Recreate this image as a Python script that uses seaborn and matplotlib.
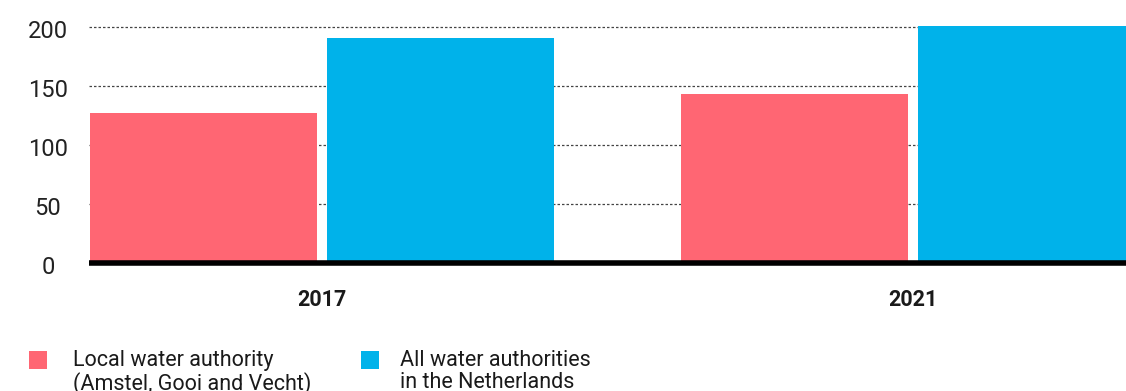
import matplotlib
matplotlib.use("Agg")
import matplotlib.pyplot as plt
from matplotlib.patches import Rectangle
from matplotlib.transforms import ScaledTranslation
import seaborn as sns
import pandas as pd

# Data
years = ["2017", "2021"]
series_names = ["Local water authority\n(Amstel, Gooi and Vecht)",
                "All water authorities\nin the Netherlands"]
local_values = [127, 143]
national_values = [191, 201]
y_ticks = [0, 50, 100, 150, 200]

colors = ["#FF6673", "#00B2EA"]
text_color = "#1a1a1a"

df = pd.DataFrame({
    "year": years * 2,
    "authority": [series_names[0]] * len(years) + [series_names[1]] * len(years),
    "value": local_values + national_values,
})

sns.set_theme(style="white")
plt.rcParams["font.family"] = ["Roboto", "DejaVu Sans"]

W, H = 1126, 391
fig = plt.figure(figsize=(W / 100, H / 100), dpi=100)
ax = fig.add_axes([89 / W, (H - 263) / H, 1 - 89 / W, 259.6 / H])

sns.barplot(data=df, x="year", y="value", hue="authority",
            palette=colors, width=0.8, gap=0.04, saturation=1,
            legend=False, ax=ax, zorder=2, linewidth=0)

ax.set_xlim(-0.394, 1.36)
ax.set_ylim(0, 220)
ax.set_yticks(y_ticks)
ax.set_yticklabels([str(t) for t in y_ticks], fontsize=17, color="#222222")
ax.tick_params(axis="y", length=0, pad=29.5)
ax.tick_params(axis="x", length=0, pad=19)
shift = ScaledTranslation(0, -2 / 100, fig.dpi_scale_trans)
for lbl in ax.get_yticklabels():
    lbl.set_horizontalalignment("center")
    lbl.set_transform(lbl.get_transform() + shift)
for lbl in ax.get_xticklabels():
    lbl.set_fontweight("bold")
    lbl.set_fontsize(15.5)
    lbl.set_color(text_color)
ax.set_xlabel("")
ax.set_ylabel("")

# Dotted gridlines behind the bars
for t in y_ticks[1:]:
    ax.axhline(t, color="#444444", linewidth=0.9, linestyle=(0, (2, 1.6)), zorder=1)

# Heavy baseline
ax.axhline(0, color="black", linewidth=4, zorder=3, clip_on=False,
           solid_capstyle="butt")

for s in ax.spines.values():
    s.set_visible(False)

# Legend
legend_items = [(29, 73), (361, 400)]
for (sx, tx), name, c in zip(legend_items, series_names, colors):
    fig.patches.append(Rectangle((sx / W, 1 - 369 / H), 18 / W, 18 / H,
                                 transform=fig.transFigure, facecolor=c,
                                 edgecolor="none"))
    fig.text(tx / W, 1 - 350 / H, name, ha="left", va="top",
             fontsize=15.5, color=text_color, linespacing=1.05)

fig.savefig("out.png", dpi=100)
